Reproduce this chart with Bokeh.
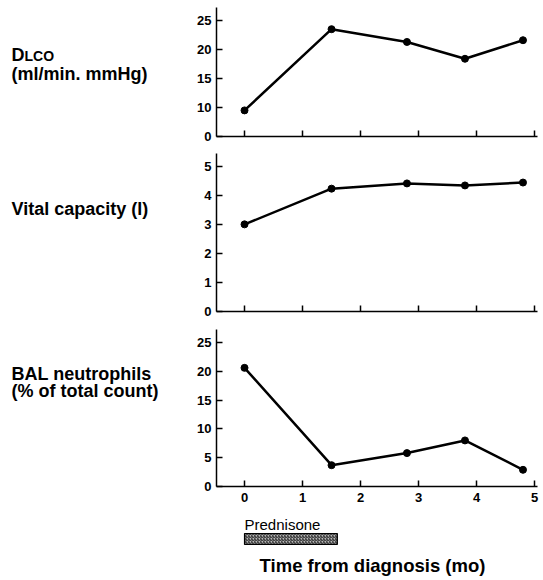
from bokeh.plotting import figure
from bokeh.models import Range1d, FixedTicker, Label, CustomJSTickFormatter
from bokeh.layouts import column, row
from bokeh.embed import file_html
from bokeh.resources import INLINE

# ---- data ----
months = [0, 1.5, 2.8, 3.8, 4.8]
dlco = [9.5, 23.5, 21.3, 18.4, 21.6]
vital_capacity = [3.0, 4.23, 4.41, 4.34, 4.44]
bal_neutrophils = [20.6, 3.7, 5.8, 8.0, 2.9]

x_ticks = [0, 1, 2, 3, 4, 5]
dlco_ticks = [5, 10, 15, 20, 25]          # broken axis: lowest tick shown as "0"
dlco_tick_labels = {5: "0"}
vc_ticks = [0, 1, 2, 3, 4, 5]
bal_ticks = [0, 5, 10, 15, 20, 25]

prednisone_start = [0]
prednisone_end = [1.6]

x_label = "Time from diagnosis (mo)"

FONT = "Liberation Sans"
TOTAL_H = 578
LABEL_W = 175
PANEL_W = 365
INNER_LEFT = 41

xr = Range1d(-0.483, 5.05)


def make_panel(height, top, bottom, yr, yticks, show_xlabels):
    p = figure(width=PANEL_W, height=height, x_range=xr, y_range=yr,
               output_backend="svg", toolbar_location=None,
               min_border_left=INNER_LEFT, min_border_right=3,
               min_border_top=top, min_border_bottom=bottom)
    p.outline_line_color = None
    p.grid.visible = False
    p.background_fill_color = "white"
    p.border_fill_color = "white"
    for ax in (p.xaxis, p.yaxis):
        ax.axis_line_width = 1.5
        ax.axis_line_color = "black"
        ax.major_tick_line_width = 1.5
        ax.major_tick_line_color = "black"
        ax.minor_tick_line_color = None
        ax.major_tick_in = 6
        ax.major_tick_out = 0
        ax.major_label_text_font = FONT
        ax.major_label_text_font_style = "bold"
        ax.major_label_text_font_size = "13px"
        ax.major_label_text_color = "black"
    p.xaxis.ticker = FixedTicker(ticks=x_ticks)
    p.yaxis.ticker = FixedTicker(ticks=yticks)
    p.yaxis.major_label_standoff = 5
    p.xaxis.major_label_standoff = 6
    if not show_xlabels:
        p.xaxis.formatter = CustomJSTickFormatter(code="return ''")
        p.xaxis.major_label_standoff = 0
    return p


def add_series(p, ys):
    p.line(months, ys, line_width=2.5, line_color="black")
    p.scatter(months, ys, size=7, fill_color="black", line_color="black")


# Panel 1: DLCO
p1 = make_panel(146, 7, 10, Range1d(5, 27.24), dlco_ticks, False)
p1.yaxis.major_label_overrides = dlco_tick_labels
add_series(p1, dlco)

# Panel 2: vital capacity
p2 = make_panel(175, 7, 10, Range1d(0, 5.44), vc_ticks, False)
add_series(p2, vital_capacity)

# Panel 3: BAL neutrophils
p3 = make_panel(187, 8, 22, Range1d(0, 27.26), bal_ticks, True)
add_series(p3, bal_neutrophils)

# Panel 4: prednisone bar + axis title
p4 = figure(width=PANEL_W, height=TOTAL_H - 146 - 175 - 187, x_range=xr, y_range=Range1d(1, 0),
            output_backend="svg", toolbar_location=None,
            x_axis_type=None, y_axis_type=None,
            min_border_left=INNER_LEFT, min_border_right=3,
            min_border_top=0, min_border_bottom=0)
p4.outline_line_color = None
p4.grid.visible = False
# y measured downward from the top of this strip (0..1 over 70 px)
p4.quad(left=prednisone_start, right=prednisone_end, bottom=[36 / 70], top=[25 / 70],
        fill_color="#b8b8b8", line_color="black", line_width=1.2,
        hatch_pattern="right_diagonal_line", hatch_color="#222222",
        hatch_scale=3, hatch_weight=1)
p4.add_layout(Label(x=prednisone_start[0], y=16 / 70, text="Prednisone",
                    text_font=FONT, text_font_size="15px", text_color="black",
                    text_baseline="middle", text_align="left"))
p4.add_layout(Label(x=156, y=57 / 70, x_units="screen", text=x_label,
                    text_font=FONT, text_font_style="bold", text_font_size="18.5px",
                    text_color="black", text_baseline="middle", text_align="center"))

# Left strip with the panel titles (y measured in px from top)
lab = figure(width=LABEL_W, height=TOTAL_H, x_range=Range1d(0, LABEL_W),
             y_range=Range1d(TOTAL_H, 0), output_backend="svg", toolbar_location=None,
             x_axis_type=None, y_axis_type=None,
             min_border_left=0, min_border_right=0, min_border_top=0, min_border_bottom=0)
lab.outline_line_color = None
lab.grid.visible = False


def side_label(text, x, y, size="18px"):
    lab.add_layout(Label(x=x, y=y, text=text, text_font=FONT, text_font_style="bold",
                         text_font_size=size, text_color="black",
                         text_baseline="middle", text_align="left"))


side_label("D", 11, 54)
side_label("LCO", 24, 55, "14px")
side_label("(ml/min. mmHg)", 11, 73)
side_label("Vital capacity (l)", 11, 208)
side_label("BAL neutrophils", 11, 373)
side_label("(% of total count)", 11, 390)

layout = row(lab, column(p1, p2, p3, p4, spacing=0), spacing=0)

open("out.html", "w").write(file_html(layout, INLINE))
